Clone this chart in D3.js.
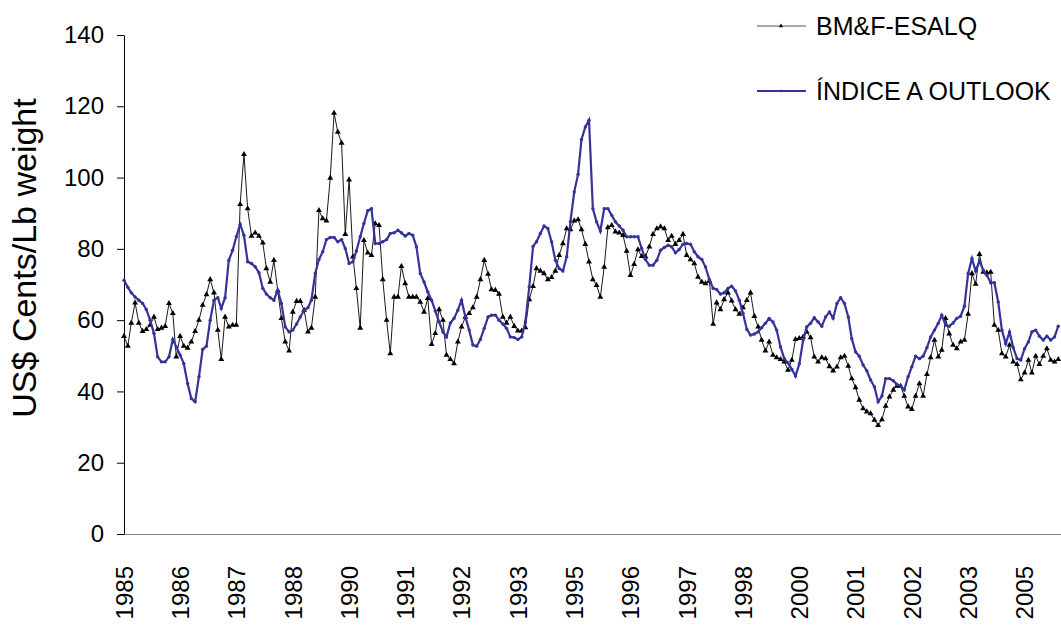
<!DOCTYPE html>
<html><head><meta charset="utf-8">
<script src="https://cdn.jsdelivr.net/npm/d3@7"></script>
<style>
body{margin:0;background:#fff}
svg text{font-family:"Liberation Sans",Arial,sans-serif;fill:#000}
</style>
</head><body>
<svg id="chart" width="1061" height="625"></svg>
<script>
// monthly categories start Jan 1985; one label every 15 months
const firstMonth = new Date(1985, 0, 1);
const labelEvery = 15;
const tickLabels = ["1985","1986","1987","1988","1990","1991","1992","1993","1995","1996","1997","1998","2000","2001","2002","2003","2005"];
const yTicks = [0, 20, 40, 60, 80, 100, 120, 140];
const seriesNames = ["BM&F-ESALQ", "ÍNDICE A OUTLOOK"];
const yTitle = "US$ Cents/Lb weight";

const bmfEsalq = [
55.5,52.7,59.2,64.9,59.2,56.9,57.4,58.6,60.9,57.4,
57.8,58.3,64.7,61.9,49.7,55.5,52.7,52.2,53.9,56.9,
60.0,64.2,67.2,71.4,67.7,57.2,49.0,60.9,58.1,58.6,
58.6,92.5,106.5,91.3,83.6,84.5,83.6,81.7,74.5,70.7,
76.8,68.2,60.5,53.9,51.4,62.3,65.3,65.3,62.8,56.7,
57.8,66.5,90.8,88.5,87.9,99.9,118.1,112.8,109.7,84.1,
99.4,77.8,68.9,57.8,82.4,78.9,78.2,87.1,86.6,71.4,
60.0,50.6,66.5,66.5,75.1,70.3,66.5,66.5,66.5,65.1,
62.3,66.1,53.2,56.3,63.0,60.0,50.2,49.0,47.8,53.9,
58.1,60.9,61.9,63.5,66.5,71.4,76.8,72.9,68.6,68.4,
67.3,60.9,59.2,60.9,58.3,57.0,57.0,57.9,65.8,69.5,
74.5,73.8,73.1,71.4,72.0,73.8,78.2,81.5,85.7,85.4,
87.9,88.2,85.4,81.3,76.4,71.4,69.8,66.5,74.9,86.0,
86.6,84.8,84.5,83.8,79.4,72.6,75.7,79.8,77.9,77.8,
80.6,84.1,85.7,86.2,85.7,82.4,83.6,81.3,82.4,84.1,
78.2,77.0,75.9,72.1,70.7,70.3,71.0,58.9,64.9,63.0,
65.8,67.7,65.4,63.0,61.7,63.5,65.6,67.7,61.1,58.1,
54.4,51.4,53.9,50.2,49.5,49.0,48.3,46.0,48.8,54.6,
54.9,55.3,56.7,55.1,49.7,48.3,49.5,49.2,47.0,45.8,
46.9,49.5,49.9,47.1,43.6,41.1,37.6,35.2,34.3,33.8,
32.0,30.5,32.1,35.9,38.5,40.4,41.5,41.5,38.7,35.7,
35.0,38.7,42.2,38.7,44.8,49.5,54.4,49.7,51.6,60.5,
56.2,53.0,52.0,53.9,54.4,61.7,73.1,70.1,78.5,73.5,
73.3,73.5,58.6,57.2,50.6,49.7,53.0,48.3,47.6,43.3,
45.2,48.8,45.2,49.9,47.6,49.9,52.0,48.8,48.3,49.0
];

const indiceA = [
71.2,69.2,67.7,66.5,65.6,64.7,63.0,60.0,56.3,49.7,
48.3,48.3,49.7,54.6,52.5,50.2,47.8,42.2,38.0,37.1,
44.1,51.8,52.7,60.0,65.6,66.3,63.3,66.3,76.8,79.6,
83.4,86.9,83.8,76.4,75.9,75.0,73.3,68.9,67.3,66.3,
65.6,68.4,64.7,58.1,56.7,57.2,58.9,60.9,62.8,63.5,
65.6,73.1,77.0,79.2,82.6,83.2,83.2,82.0,82.6,80.1,
75.9,76.4,79.4,83.4,87.1,90.7,91.3,81.5,81.5,82.0,
82.6,84.3,84.5,85.2,84.5,83.6,84.3,83.8,80.6,73.1,
70.7,67.9,65.6,62.6,59.5,56.7,55.3,59.2,60.5,62.8,
65.6,60.9,57.2,53.0,52.7,54.6,57.7,60.9,61.4,61.4,
60.0,58.9,57.7,55.3,55.1,54.6,55.3,59.5,69.3,80.7,
82.0,84.3,86.4,85.7,82.0,76.8,74.5,73.8,77.8,87.6,
96.0,100.9,110.7,114.2,116.1,91.3,87.6,85.0,91.3,91.3,
89.4,87.6,86.4,85.2,83.4,83.4,83.4,83.4,80.1,77.0,
75.4,75.4,76.8,79.6,80.4,81.0,80.6,78.9,79.8,81.3,
81.5,81.3,79.2,77.8,77.0,74.9,71.4,68.9,68.6,67.3,
67.7,68.9,69.5,68.2,65.6,61.9,57.4,55.8,56.1,56.7,
57.9,59.1,60.5,59.5,57.2,52.5,49.2,48.0,46.2,44.3,
47.8,54.4,58.1,59.1,60.7,59.5,58.3,60.9,62.3,60.5,
64.7,66.3,64.7,60.9,54.8,51.1,49.9,47.4,45.8,43.2,
41.3,37.1,38.7,43.6,43.6,43.0,42.0,41.5,40.4,44.1,
46.9,49.9,49.2,49.9,52.3,55.3,57.2,59.1,61.4,58.6,
58.3,59.2,60.5,61.1,63.9,73.1,77.3,73.8,76.6,74.0,
72.6,70.5,70.5,65.1,57.2,53.4,56.7,52.3,49.2,48.8,
52.0,53.9,56.7,57.2,55.5,54.4,55.5,54.4,55.3,58.3
];

const nPts = Math.max(bmfEsalq.length, indiceA.length);
const months = d3.range(nPts).map(i => d3.timeMonth.offset(firstMonth, i));

const svg = d3.select("#chart");
const plotLeft = 124, plotTop = 35, plotBottom = 534, plotRight = 1061;
const step = 3.752;

const x = d3.scaleTime()
  .domain([months[0], months[nPts - 1]])
  .range([plotLeft, plotLeft + step * (nPts - 1)]);
const xi = i => x(months[i]);
const y = d3.scaleLinear().domain([0, 140]).range([plotBottom, plotTop]);

// y axis
const yAxis = d3.axisLeft(y).tickValues(yTicks).tickSize(7).tickPadding(13).tickSizeOuter(0);
const gy = svg.append("g").attr("transform", `translate(${plotLeft},0)`).call(yAxis);
gy.select(".domain").attr("stroke", "#000").attr("stroke-width", 1);
gy.selectAll(".tick line").attr("stroke", "#000");
gy.selectAll(".tick text").attr("font-size", 24).attr("font-family", "Liberation Sans, Arial, sans-serif").attr("fill", "#000");

// x axis (category labels every 15 months)
const tickIdx = tickLabels.map((_, k) => k * labelEvery);
const xAxis = d3.axisBottom(x)
  .tickValues(tickIdx.map(i => months[i]))
  .tickFormat((d, k) => tickLabels[k])
  .tickSize(0).tickSizeOuter(0);
const gx = svg.append("g").attr("transform", `translate(0,${plotBottom})`).call(xAxis);
gx.select(".domain").remove();
gx.selectAll(".tick text")
  .attr("font-size", 24).attr("font-family", "Liberation Sans, Arial, sans-serif").attr("fill", "#000")
  .attr("text-anchor", "end")
  .attr("transform", "translate(0,32) rotate(-90)")
  .attr("x", 0).attr("y", 0).attr("dy", "0.35em");
svg.append("line")
  .attr("x1", plotLeft).attr("x2", plotRight)
  .attr("y1", plotBottom + 0.5).attr("y2", plotBottom + 0.5)
  .attr("stroke", "#808080").attr("stroke-width", 1.2);

// y title
svg.append("text")
  .attr("transform", `translate(24,258) rotate(-90)`)
  .attr("text-anchor", "middle").attr("dy", "0.35em")
  .attr("font-size", 34).text(yTitle);

// series
const lineGen = vals => d3.line().x((d, i) => xi(i)).y(d => y(d))(vals);

svg.append("path").attr("d", lineGen(bmfEsalq))
  .attr("fill", "none").attr("stroke", "#000").attr("stroke-width", 0.9);
svg.append("g").selectAll("path").data(bmfEsalq).join("path")
  .attr("d", d3.symbol(d3.symbolTriangle, 15)())
  .attr("transform", (d, i) => `translate(${xi(i)},${y(d)})`)
  .attr("fill", "#000");

svg.append("path").attr("d", lineGen(indiceA))
  .attr("fill", "none").attr("stroke", "#333399").attr("stroke-width", 2.2);
svg.append("g").selectAll("circle").data(indiceA).join("circle")
  .attr("cx", (d, i) => xi(i)).attr("cy", d => y(d)).attr("r", 1.7)
  .attr("fill", "#333399");

// legend
const legend = svg.append("g");
const legY = [26, 91];
legend.append("line").attr("x1", 757).attr("x2", 806).attr("y1", legY[0]).attr("y2", legY[0])
  .attr("stroke", "#555").attr("stroke-width", 1);
legend.append("path").attr("d", d3.symbol(d3.symbolTriangle, 8)())
  .attr("transform", `translate(781,${legY[0]})`).attr("fill", "#000");
legend.append("line").attr("x1", 757).attr("x2", 806).attr("y1", legY[1]).attr("y2", legY[1])
  .attr("stroke", "#333399").attr("stroke-width", 2);
legend.append("circle").attr("cx", 781).attr("cy", legY[1]).attr("r", 1.3).attr("fill", "#333399");
legend.selectAll("text.lab").data(seriesNames).join("text").attr("class", "lab")
  .attr("x", 816).attr("y", (d, i) => legY[i]).attr("dy", "0.35em")
  .attr("font-size", 25).text(d => d);
</script>
</body></html>
